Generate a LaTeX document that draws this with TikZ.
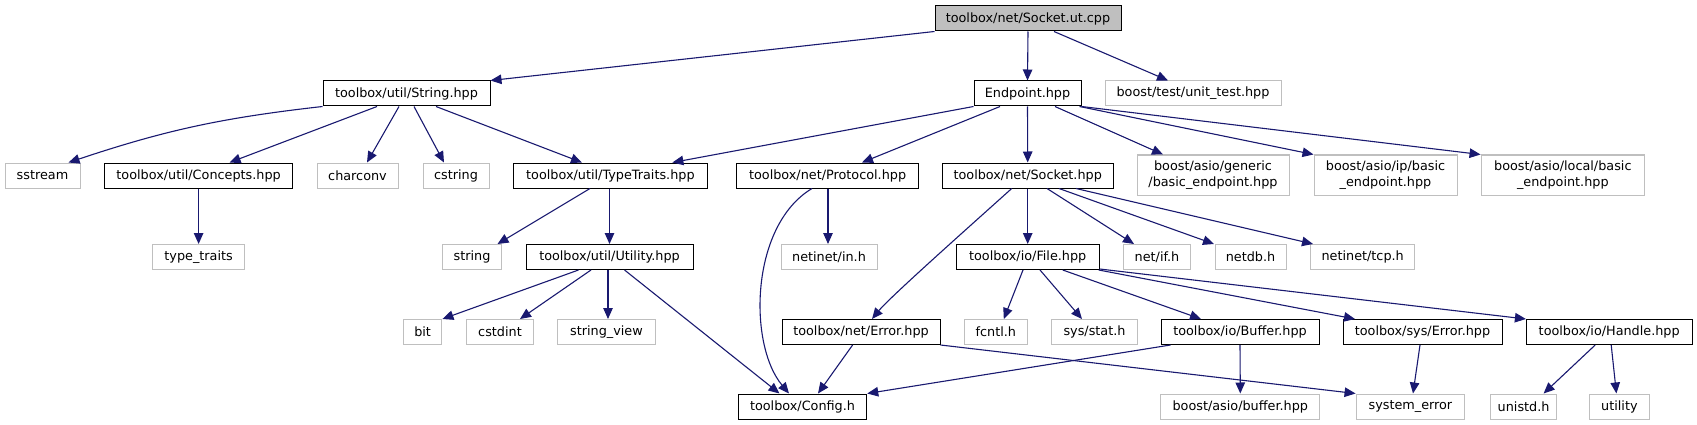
\documentclass[tikz,border=0pt]{standalone}
\usepackage{fontspec}
\setmainfont{DejaVu Sans}
\usetikzlibrary{arrows.meta}
\definecolor{edgeblue}{HTML}{191970}
\definecolor{lgray}{HTML}{BFBFBF}
\begin{document}
\begin{tikzpicture}[x=1pt,y=-1pt,
 box/.style={line width=1pt, inner sep=0pt, minimum height=25pt, font=\fontsize{12.8}{16}\selectfont, align=center},
 dk/.style={box, draw=black},
 lt/.style={box, draw=lgray},
 rootbox/.style={box, draw=black, fill=lgray},
 edge/.style={draw=edgeblue, line width=1.1pt, -{Triangle[length=11pt,width=9.5pt]}}]
\useasboundingbox[fill=white] (0,0) rectangle (1697,425);
% row 0
\node[rootbox, minimum width=186pt] (root) at (1028,18.5) {toolbox/net/Socket.ut.cpp};
% row 1
\node[dk, minimum width=167pt] (str) at (406.5,93.5) {toolbox/util/String.hpp};
\node[dk, minimum width=107pt] (ep) at (1027.5,93.5) {Endpoint.hpp};
\node[lt, minimum width=176pt] (ut) at (1193,93.5) {boost/test/unit\_test.hpp};
% row 2
\node[lt, minimum width=75pt] (sst) at (42.5,175.5) {sstream};
\node[dk, minimum width=188pt] (con) at (198.6,175.5) {toolbox/util/Concepts.hpp};
\node[lt, minimum width=81pt] (chc) at (357.5,175.5) {charconv};
\node[lt, minimum width=66pt] (cst) at (456,175.5) {cstring};
\node[dk, minimum width=194pt] (tt) at (610.4,175.5) {toolbox/util/TypeTraits.hpp};
\node[dk, minimum width=182pt] (pro) at (827.6,175.5) {toolbox/net/Protocol.hpp};
\node[dk, minimum width=171pt] (sock) at (1027.7,175.5) {toolbox/net/Socket.hpp};
\node[lt, minimum width=152pt, minimum height=40pt] (gen) at (1213,175) {boost/asio/generic\\/basic\_endpoint.hpp};
\node[lt, minimum width=143pt, minimum height=40pt] (ipe) at (1385.5,175) {boost/asio/ip/basic\\\_endpoint.hpp};
\node[lt, minimum width=163.5pt, minimum height=40pt] (loc) at (1562.8,175) {boost/asio/local/basic\\\_endpoint.hpp};
% row 3
\node[lt, minimum width=92.6pt] (tts) at (198.6,257) {type\_traits};
\node[lt, minimum width=58.6pt] (strs) at (472,257) {string};
\node[dk, minimum width=167pt] (uti) at (609.5,257) {toolbox/util/Utility.hpp};
\node[lt, minimum width=96pt] (inh) at (829,257) {netinet/in.h};
\node[dk, minimum width=143pt] (fil) at (1027.7,257) {toolbox/io/File.hpp};
\node[lt, minimum width=67pt] (ifh) at (1157,257) {net/if.h};
\node[lt, minimum width=71pt] (ndb) at (1250.5,257) {netdb.h};
\node[lt, minimum width=104.5pt] (tcp) at (1362.7,257) {netinet/tcp.h};
% row 4
\node[lt, minimum width=38.7pt] (bit) at (422.6,332) {bit};
\node[lt, minimum width=67pt] (csi) at (500,332) {cstdint};
\node[lt, minimum width=97.5pt] (sv) at (606.5,332) {string\_view};
\node[dk, minimum width=158pt] (ner) at (861,332) {toolbox/net/Error.hpp};
\node[lt, minimum width=62.8pt] (fcn) at (995.8,332) {fcntl.h};
\node[lt, minimum width=85.7pt] (sta) at (1094.5,332) {sys/stat.h};
\node[dk, minimum width=158pt] (buf) at (1240,332) {toolbox/io/Buffer.hpp};
\node[dk, minimum width=159pt] (ser) at (1422.5,332) {toolbox/sys/Error.hpp};
\node[dk, minimum width=165.6pt] (han) at (1609.2,332) {toolbox/io/Handle.hpp};
% row 5
\node[dk, minimum width=128.5pt] (cfg) at (802.5,406.5) {toolbox/Config.h};
\node[lt, minimum width=158.7pt] (abuf) at (1240.3,406.5) {boost/asio/buffer.hpp};
\node[lt, minimum width=108.7pt] (syse) at (1410.4,406.5) {system\_error};
\node[lt, minimum width=66.7pt] (uni) at (1523.6,406.5) {unistd.h};
\node[lt, minimum width=60pt] (utl) at (1619.4,406.5) {utility};
% edges
\draw[edge] (root.south west) -- (str.north east);
\draw[edge] (root.south) -- (ep.north);
\draw[edge] ([xshift=26pt]root.south) -- ([xshift=-25pt]ut.north);
\draw[edge] (str.south west) to[bend right=6] ([xshift=26pt]sst.north);
\draw[edge] ([xshift=-29.5pt]str.south) -- ([xshift=31pt]con.north);
\draw[edge] ([xshift=-7.5pt]str.south) -- ([xshift=9.5pt]chc.north);
\draw[edge] ([xshift=7.5pt]str.south) -- ([xshift=-12pt]cst.north);
\draw[edge] ([xshift=29.5pt]str.south) -- ([xshift=-28.4pt]tt.north);
\draw[edge] (ep.south west) -- ([xshift=62pt]tt.north);
\draw[edge] ([xshift=-27.5pt]ep.south) -- ([xshift=34.4pt]pro.north);
\draw[edge] (ep.south) -- (sock.north);
\draw[edge] ([xshift=27.5pt]ep.south) -- ([xshift=-50pt]gen.north);
\draw[edge] ([xshift=-2pt]ep.south east) -- (ipe.north west);
\draw[edge] (ep.south east) -- (loc.north west);
\draw[edge] (con.south) -- (tts.north);
\draw[edge] ([xshift=-20.4pt]tt.south) -- ([xshift=25.5pt]strs.north);
\draw[edge] ([xshift=-0.9pt]tt.south) -- (uti.north);
\draw[edge] ([xshift=0.4pt]pro.south) -- ([xshift=-1pt]inh.north);
\draw[edge] ([xshift=-15.6pt]pro.south) .. controls +(-62,37) and +(-41,-49) .. ([xshift=-13.5pt]cfg.north);
\draw[edge] ([xshift=-16pt]sock.south) .. controls +(-40,36) and +(18,-22) .. ([xshift=11pt]ner.north);
\draw[edge] (sock.south) -- (fil.north);
\draw[edge] ([xshift=19.3pt]sock.south) -- ([xshift=-23pt]ifh.north);
\draw[edge] ([xshift=31.3pt]sock.south) -- ([xshift=-36.5pt]ndb.north);
\draw[edge] ([xshift=48.3pt]sock.south) -- ([xshift=-49.7pt]tcp.north);
\draw[edge] ([xshift=-31pt]uti.south) -- (bit.north east);
\draw[edge] ([xshift=-18.5pt]uti.south) -- ([xshift=20pt]csi.north);
\draw[edge] ([xshift=-1.5pt]uti.south) -- ([xshift=1.5pt]sv.north);
\draw[edge] ([xshift=15pt]uti.south) -- ([xshift=-23pt]cfg.north);
\draw[edge] ([xshift=-4.7pt]fil.south) -- ([xshift=8pt]fcn.north);
\draw[edge] ([xshift=12.3pt]fil.south) -- ([xshift=-12.5pt]sta.north);
\draw[edge] ([xshift=35pt]fil.south) -- ([xshift=-39pt]buf.north);
\draw[edge] ([xshift=-1pt]fil.south east) -- ([xshift=-67.5pt]ser.north);
\draw[edge] ([yshift=1pt]fil.south east) -- (han.north west);
\draw[edge] ([xshift=-8.4pt]ner.south) -- ([xshift=15.5pt]cfg.north);
\draw[edge] (ner.south east) -- (syse.north west);
\draw[edge] ([xshift=-69.5pt]buf.south) -- (cfg.north east);
\draw[edge] (buf.south) -- (abuf.north);
\draw[edge] ([xshift=-2.5pt]ser.south) -- ([xshift=2.6pt]syse.north);
\draw[edge] ([xshift=-14pt]han.south) -- ([xshift=20pt]uni.north);
\draw[edge] ([xshift=2pt]han.south) -- ([xshift=-3pt]utl.north);
\end{tikzpicture}
\end{document}
